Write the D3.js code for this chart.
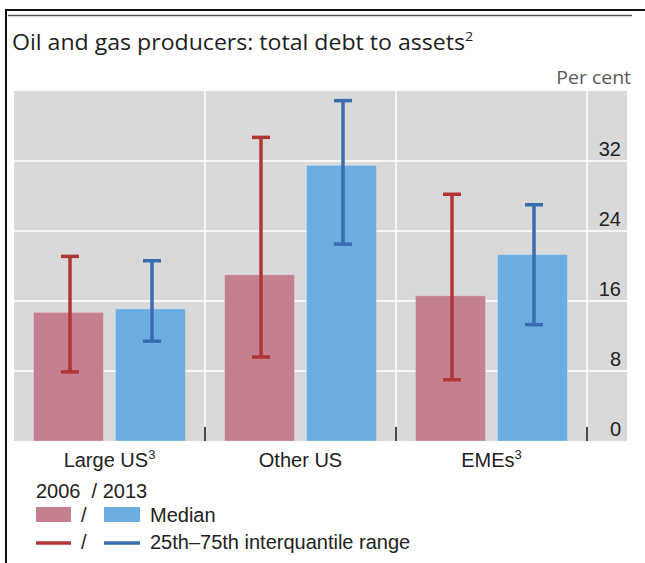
<!DOCTYPE html>
<html>
<head>
<meta charset="utf-8">
<script src="https://cdn.jsdelivr.net/npm/d3@7"></script>
<style>
  html, body { margin: 0; padding: 0; background: #fff; }
  svg { display: block; }
  text { white-space: pre; }
</style>
</head>
<body>
<svg id="chart" width="645" height="563"></svg>
<script>
// ---- Data ----
const categories = ["Large US", "Other US", "EMEs"];
const categorySup = ["3", "", "3"];
const years = ["2006", "2013"];
const median2006 = [14.7, 19.0, 16.6];
const median2013 = [15.1, 31.5, 21.3];
const p25_2006 = [7.9, 9.6, 7.0];
const p75_2006 = [21.1, 34.7, 28.2];
const p25_2013 = [11.4, 22.5, 13.3];
const p75_2013 = [20.6, 38.9, 27.0];
const yTicks = [0, 8, 16, 24, 32];
const title = "Oil and gas producers: total debt to assets";
const titleSup = "2";
const unitLabel = "Per cent";
const legendYears = "2006  / 2013";
const legendMedian = "Median";
const legendRange = "25th\u201375th interquantile range";

// ---- Styles ----
const barColors = { "2006": "#c4808f", "2013": "#6badE0" };
const errColors = { "2006": "#b03636", "2013": "#3a6db0" };
const bg = "#d9d9d9";
const sansA = "'Liberation Sans', Arial, sans-serif";
const sansT = "'Open Sans', 'Noto Sans', sans-serif";

const svg = d3.select("#chart");

// ---- Frame ----
svg.append("line").attr("x1", 5).attr("x2", 645).attr("y1", 10).attr("y2", 10)
  .attr("stroke", "#111").attr("stroke-width", 2);
svg.append("line").attr("x1", 8).attr("x2", 632).attr("y1", 15.5).attr("y2", 15.5)
  .attr("stroke", "#555").attr("stroke-width", 1.5);
svg.append("line").attr("x1", 6).attr("x2", 6).attr("y1", 9).attr("y2", 563)
  .attr("stroke", "#111").attr("stroke-width", 2);

// ---- Title ----
const t = svg.append("text").attr("transform", "translate(12,50) scale(1.1,1)")
  .attr("font-family", sansT).attr("font-size", 21).attr("fill", "#1e1e1e");
t.append("tspan").text(title);
t.append("tspan").attr("dy", -9).attr("font-size", 13).text(titleSup);

svg.append("text").attr("transform", "translate(631,84) scale(1.08,1)").attr("text-anchor", "end")
  .attr("font-family", sansT).attr("font-size", 18).attr("fill", "#595959")
  .text(unitLabel);

// ---- Scales ----
const plotLeft = 14, plotRight = 627, plotTop = 91, plotBottom = 441, bandEnd = 587;
const y = d3.scaleLinear().domain([0, 40]).range([plotBottom, plotTop]);
const x0 = d3.scaleBand().domain(categories).range([plotLeft, bandEnd]).padding(0);
const x1 = d3.scaleBand().domain(years).range([19.5, 171.5]).paddingInner(12 / 82).paddingOuter(0);

// ---- Background & grid ----
svg.append("rect").attr("x", plotLeft).attr("y", plotTop)
  .attr("width", plotRight - plotLeft).attr("height", plotBottom - plotTop).attr("fill", bg);

svg.append("g").selectAll("line").data(yTicks.filter(d => d > 0)).join("line")
  .attr("x1", plotLeft).attr("x2", plotRight)
  .attr("y1", d => y(d)).attr("y2", d => y(d))
  .attr("stroke", "#fff").attr("stroke-width", 1.5);

const sepX = categories.map(c => x0(c) + x0.bandwidth());
svg.append("g").selectAll("line").data(sepX).join("line")
  .attr("x1", d => d).attr("x2", d => d)
  .attr("y1", plotTop).attr("y2", plotBottom)
  .attr("stroke", "#fff").attr("stroke-width", 1.5);

// ---- Bars ----
const rows = categories.map((c, i) => ({
  cat: c,
  vals: [
    { year: "2006", med: median2006[i], lo: p25_2006[i], hi: p75_2006[i] },
    { year: "2013", med: median2013[i], lo: p25_2013[i], hi: p75_2013[i] }
  ]
}));

const groups = svg.append("g").selectAll("g").data(rows).join("g")
  .attr("transform", d => `translate(${x0(d.cat)},0)`);

groups.selectAll("rect").data(d => d.vals).join("rect")
  .attr("x", d => x1(d.year))
  .attr("width", x1.bandwidth())
  .attr("y", d => y(d.med))
  .attr("height", d => y(0) - y(d.med))
  .attr("fill", d => barColors[d.year])
  .attr("stroke", "rgba(255,255,255,0.25)").attr("stroke-width", 1);

// ---- Error bars ----
const eb = groups.selectAll("g.eb").data(d => d.vals).join("g").attr("class", "eb");
const cx = d => x1(d.year) + x1.bandwidth() / 2 + 1.5;
eb.append("line").attr("x1", cx).attr("x2", cx)
  .attr("y1", d => y(d.lo)).attr("y2", d => y(d.hi))
  .attr("stroke", d => errColors[d.year]).attr("stroke-width", 3.5);
eb.append("line").attr("x1", d => cx(d) - 9).attr("x2", d => cx(d) + 9)
  .attr("y1", d => y(d.hi)).attr("y2", d => y(d.hi))
  .attr("stroke", d => errColors[d.year]).attr("stroke-width", 3.5);
eb.append("line").attr("x1", d => cx(d) - 9).attr("x2", d => cx(d) + 9)
  .attr("y1", d => y(d.lo)).attr("y2", d => y(d.lo))
  .attr("stroke", d => errColors[d.year]).attr("stroke-width", 3.5);

// ---- Bottom tick marks ----
svg.append("g").selectAll("line").data(sepX).join("line")
  .attr("x1", d => d).attr("x2", d => d)
  .attr("y1", plotBottom - 14).attr("y2", plotBottom)
  .attr("stroke", "#111").attr("stroke-width", 1.5);

// ---- Y axis labels ----
svg.append("g").selectAll("text").data(yTicks).join("text")
  .attr("x", 621).attr("y", d => y(d) - 5)
  .attr("text-anchor", "end")
  .attr("font-family", sansA).attr("font-size", 20).attr("fill", "#222")
  .text(d => d);

// ---- Category labels ----
const cl = svg.append("g").selectAll("text").data(categories).join("text")
  .attr("x", d => x0(d) + x0.bandwidth() / 2)
  .attr("y", 467)
  .attr("text-anchor", "middle")
  .attr("font-family", sansA).attr("font-size", 20).attr("fill", "#222");
cl.append("tspan").text(d => d);
cl.append("tspan").attr("dy", -8).attr("font-size", 13)
  .text((d, i) => categorySup[i]);

// ---- Legend ----
const lg = svg.append("g").attr("font-family", sansA).attr("font-size", 20).attr("fill", "#222");
lg.append("text").attr("x", 36).attr("y", 498).text(legendYears);
lg.append("rect").attr("x", 36).attr("y", 507).attr("width", 35).attr("height", 15).attr("fill", barColors["2006"]);
lg.append("text").attr("x", 81).attr("y", 522).text("/");
lg.append("rect").attr("x", 104).attr("y", 507).attr("width", 36).attr("height", 15).attr("fill", barColors["2013"]);
lg.append("text").attr("x", 150).attr("y", 522).text(legendMedian);
lg.append("line").attr("x1", 36).attr("x2", 71).attr("y1", 543).attr("y2", 543)
  .attr("stroke", errColors["2006"]).attr("stroke-width", 3.5);
lg.append("text").attr("x", 81).attr("y", 549).text("/");
lg.append("line").attr("x1", 104).attr("x2", 140).attr("y1", 543).attr("y2", 543)
  .attr("stroke", errColors["2013"]).attr("stroke-width", 3.5);
lg.append("text").attr("x", 150).attr("y", 549).text(legendRange);
</script>
</body>
</html>
